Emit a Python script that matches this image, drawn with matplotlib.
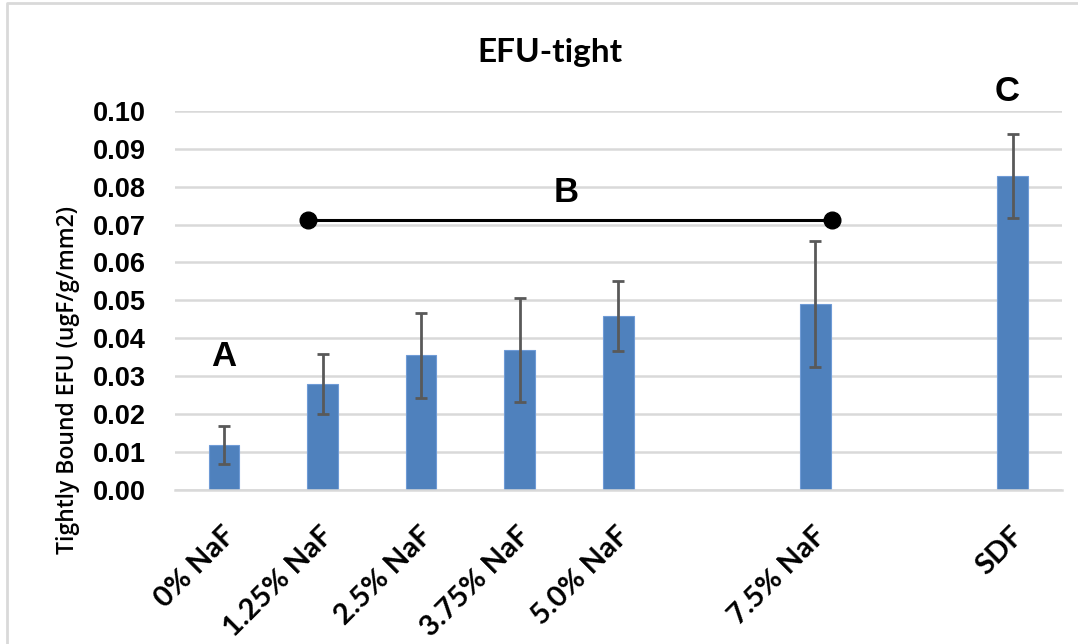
import matplotlib
matplotlib.use('Agg')
import matplotlib.pyplot as plt
import matplotlib.transforms as mtransforms
from matplotlib.lines import Line2D

# category slots (blank slots leave the gaps before 7.5% NaF and SDF)
categories = ['0% NaF', '1.25% NaF', '2.5% NaF', '3.75% NaF', '5.0% NaF', '', '7.5% NaF', '', 'SDF']
bar_slots = [0, 1, 2, 3, 4, 6, 8]
means = [0.0118, 0.0280, 0.0356, 0.0370, 0.0458, 0.0490, 0.0827]
errors = [0.0050, 0.0080, 0.0112, 0.0137, 0.0092, 0.0166, 0.0111]
y_ticks = [0.00, 0.01, 0.02, 0.03, 0.04, 0.05, 0.06, 0.07, 0.08, 0.09, 0.10]

# significance groups: letter, slot, height
groups = [('A', 0.0, 0.0351), ('B', 3.47, 0.0784), ('C', 7.95, 0.1050)]
bracket_ends = [0.85, 6.17]
bracket_y = 0.0711

fig = plt.figure(figsize=(10.78, 6.44), dpi=100)
ax = fig.add_axes([0.162, 0.239, 0.823, 0.589])

# screenshot frame: only top and left edges show
fig.lines.append(Line2D([0.0065, 0.0065, 1.0], [0.0, 0.995, 0.995], transform=fig.transFigure,
                        color='#d9d9d9', lw=2))

ax.bar(bar_slots, means, width=0.31, color='#4f81bd', edgecolor='#6f9bd6', lw=0.8, zorder=2)
ax.errorbar(bar_slots, means, yerr=errors, fmt='none', ecolor='#595959',
            elinewidth=2, capsize=4.5, capthick=2, zorder=3)

ax.plot(bracket_ends, [bracket_y, bracket_y], color='black', lw=2.2,
        marker='o', markersize=12, zorder=4)

for letter, x, y in groups:
    ax.text(x, y, letter, ha='center', va='center', fontsize=25, fontweight='bold',
            family='Liberation Sans', clip_on=False)

ax.set_xlim(-0.5, 8.5)
ax.set_ylim(0, 0.10)
ax.set_yticks(y_ticks)
ax.set_yticklabels([f'{v:.2f}' for v in y_ticks], fontsize=19.5, fontweight='bold',
                   family='Liberation Sans')
ax.set_xticks(range(len(categories)))
ax.set_xticklabels(categories, rotation=45, ha='right', va='center', rotation_mode='anchor',
                   fontsize=21, fontweight='bold', family='Lato')
ax.tick_params(axis='y', length=0, pad=21)
ax.tick_params(axis='x', length=0, pad=30)
shift = mtransforms.ScaledTranslation(5 / 72, 0, fig.dpi_scale_trans)
for lab in ax.get_xticklabels():
    lab.set_transform(lab.get_transform() + shift)

ax.grid(axis='y', color='#d9d9d9', lw=1.8, zorder=0)
ax.set_axisbelow(True)
for s in ['top', 'right', 'left']:
    ax.spines[s].set_visible(False)
ax.spines['bottom'].set_color('#d9d9d9')
ax.spines['bottom'].set_linewidth(1.8)

fig.text(0.063, 0.41, 'Tightly Bound EFU (ugF/g/mm2)', rotation=90, ha='center', va='center',
         fontsize=16.5, fontweight='semibold', family='Open Sans')
fig.text(0.51, 0.918, 'EFU-tight', ha='center', va='center', fontsize=24,
         fontweight='bold', family='Lato')

fig.savefig('out.png', dpi=100)
